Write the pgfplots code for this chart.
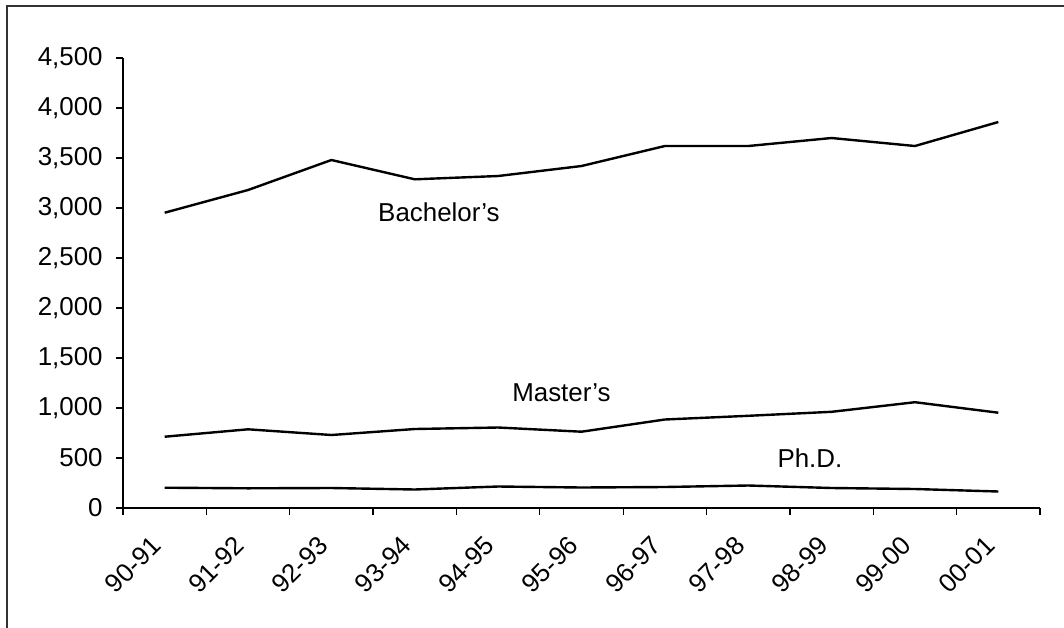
\documentclass[border=0pt]{standalone}
\usepackage{fontspec}
\setmainfont{Liberation Sans}
\usepackage{pgfplots}
\pgfplotsset{compat=1.18}
\begin{document}
\begin{tikzpicture}
\useasboundingbox (0,0) rectangle (532bp,-314bp);
\draw[line width=1bp, color={rgb,255:red,50;green,50;blue,50}] (3.5bp,-320bp) -- (3.5bp,-3bp) -- (540bp,-3bp);
\begin{axis}[
  at={(61.5bp,-254bp)}, anchor=south west,
  scale only axis, width=458.5bp, height=225bp,
  axis lines*=left,
  axis line style={line width=0.6bp, black},
  xmin=-0.5, xmax=10.5, ymin=0, ymax=4500,
  ytick={0,500,...,4500},
  xtick={-0.5,0.5,...,10.5},
  xticklabels={,,,,,,,,,,,,},
  extra x ticks={0,1,...,10},
  extra x tick labels={90-91,91-92,92-93,93-94,94-95,95-96,96-97,97-98,98-99,99-00,00-01},
  extra x tick style={tick style={draw=none},
     xticklabel style={xshift=-4bp, yshift=-13bp, rotate=45, anchor=east}},
  tick align=outside,
  major tick length=3.5bp,
  tick style={line width=0.6bp, black},
  /pgf/number format/assume math mode=true,
  /pgf/number format/1000 sep={,},
  tick label style={font=\fontsize{13}{15}\selectfont, inner sep=0pt},
  yticklabel style={xshift=-6.5bp},
  clip=false,
]
\addplot[black, line width=1.2bp] coordinates {
(0,2953) (1,3180) (2,3480) (3,3287) (4,3320) (5,3420) (6,3620) (7,3620) (8,3700) (9,3620) (10,3860)};
\addplot[black, line width=1.2bp] coordinates {
(0,713) (1,787) (2,730) (3,790) (4,805) (5,763) (6,885) (7,922) (8,962) (9,1058) (10,953)};
\addplot[black, line width=1.2bp] coordinates {
(0,203) (1,197) (2,200) (3,185) (4,215) (5,205) (6,210) (7,225) (8,200) (9,190) (10,165)};
\node[font=\fontsize{13}{15}\selectfont] at (axis cs:3.29,2960) {Bachelor’s};
\node[font=\fontsize{13}{15}\selectfont] at (axis cs:4.76,1150) {Master’s};
\node[font=\fontsize{13}{15}\selectfont] at (axis cs:7.74,500) {Ph.D.};
\end{axis}
\end{tikzpicture}
\end{document}
